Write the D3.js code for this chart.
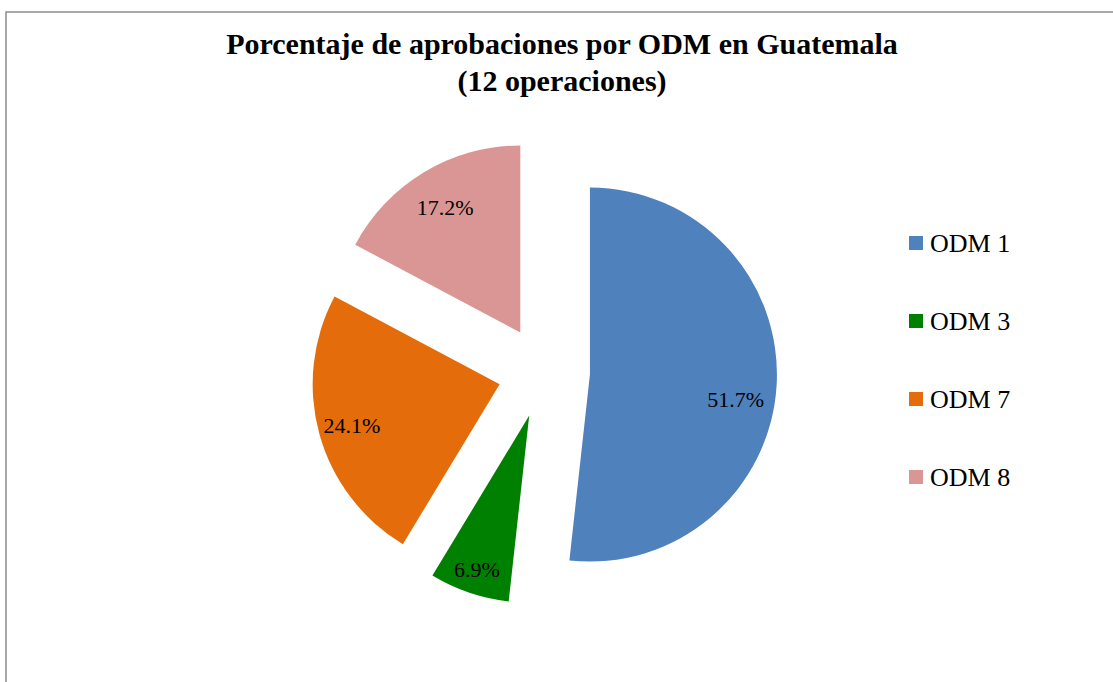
<!DOCTYPE html>
<html>
<head>
<meta charset="utf-8">
<script src="https://cdn.jsdelivr.net/npm/d3@7"></script>
<style>
  body { margin: 0; background: #fff; }
  svg { display: block; }
</style>
</head>
<body>
<div class="vis-pie"></div>
<script>
const categories = ['ODM 1', 'ODM 3', 'ODM 7', 'ODM 8'];
const values = [51.7, 6.9, 24.1, 17.2];
const titleLines = ['Porcentaje de aprobaciones por ODM en Guatemala', '(12 operaciones)'];

const width = 1113, height = 682;
const cx = 544, cy = 372, radius = 187, explode = 46;
const fontFam = "'Liberation Serif', 'Times New Roman', serif";

const color = d3.scaleOrdinal()
  .domain(categories)
  .range(['#4f81bd', '#008000', '#e46c0a', '#d99694']);

const data = categories.map((c, i) => ({ key: c, value: values[i] }));

const svg = d3.select('.vis-pie')
  .append('svg')
    .attr('width', width)
    .attr('height', height);

// chart border (right and bottom edges run off the page)
svg.append('rect')
  .attr('x', 6).attr('y', 12)
  .attr('width', width + 20).attr('height', height + 20)
  .attr('fill', 'none')
  .attr('stroke', '#8c8c8c')
  .attr('stroke-width', 1.5);

// title
svg.append('text')
  .attr('x', 562)
  .attr('y', 54)
  .attr('text-anchor', 'middle')
  .style('font-family', fontFam)
  .style('font-weight', 'bold')
  .style('font-size', '30px')
  .selectAll('tspan')
  .data(titleLines)
  .enter()
  .append('tspan')
    .attr('x', 562)
    .attr('dy', (d, i) => i === 0 ? 0 : 37)
    .text(d => d);

const pie = d3.pie().sort(null).value(d => d.value);
const arcs = pie(data);

const arc = d3.arc().innerRadius(0).outerRadius(radius);

const offset = d => {
  const mid = (d.startAngle + d.endAngle) / 2;
  return [explode * Math.sin(mid), -explode * Math.cos(mid)];
};

const slices = svg.selectAll('g.slice')
  .data(arcs)
  .enter()
  .append('g')
    .attr('class', 'slice')
    .attr('transform', d => {
      const o = offset(d);
      return 'translate(' + (cx + o[0]) + ',' + (cy + o[1]) + ')';
    });

slices.append('path')
  .attr('d', arc)
  .attr('fill', d => color(d.data.key));

slices.append('text')
  .attr('transform', d => {
    // excel "best fit" puts labels at slightly different depths
    let lr = radius * 0.78;
    if (d.index === 1) lr = radius * 0.87;
    if (d.index === 2) lr = radius * 0.82;
    const c = d3.arc().innerRadius(lr).outerRadius(lr).centroid(d);
    if (d.index === 0) c[1] += 17;
    return 'translate(' + c + ')';
  })
  .attr('text-anchor', 'middle')
  .attr('dy', '0.35em')
  .style('font-family', fontFam)
  .style('font-size', '22px')
  .style('fill', '#000')
  .text(d => d.data.value.toFixed(1) + '%');

// legend
const size = 14;
const legend = svg.selectAll('g.legend')
  .data(categories)
  .enter()
  .append('g')
    .attr('class', 'legend')
    .attr('transform', (d, i) => 'translate(909,' + (243 + i * 78) + ')');

legend.append('rect')
  .attr('x', 0)
  .attr('y', -size / 2)
  .attr('width', size)
  .attr('height', size)
  .attr('fill', d => color(d));

legend.append('text')
  .attr('x', 21)
  .attr('dy', '0.35em')
  .style('font-family', fontFam)
  .style('font-size', '26px')
  .text(d => d);
</script>
</body>
</html>
